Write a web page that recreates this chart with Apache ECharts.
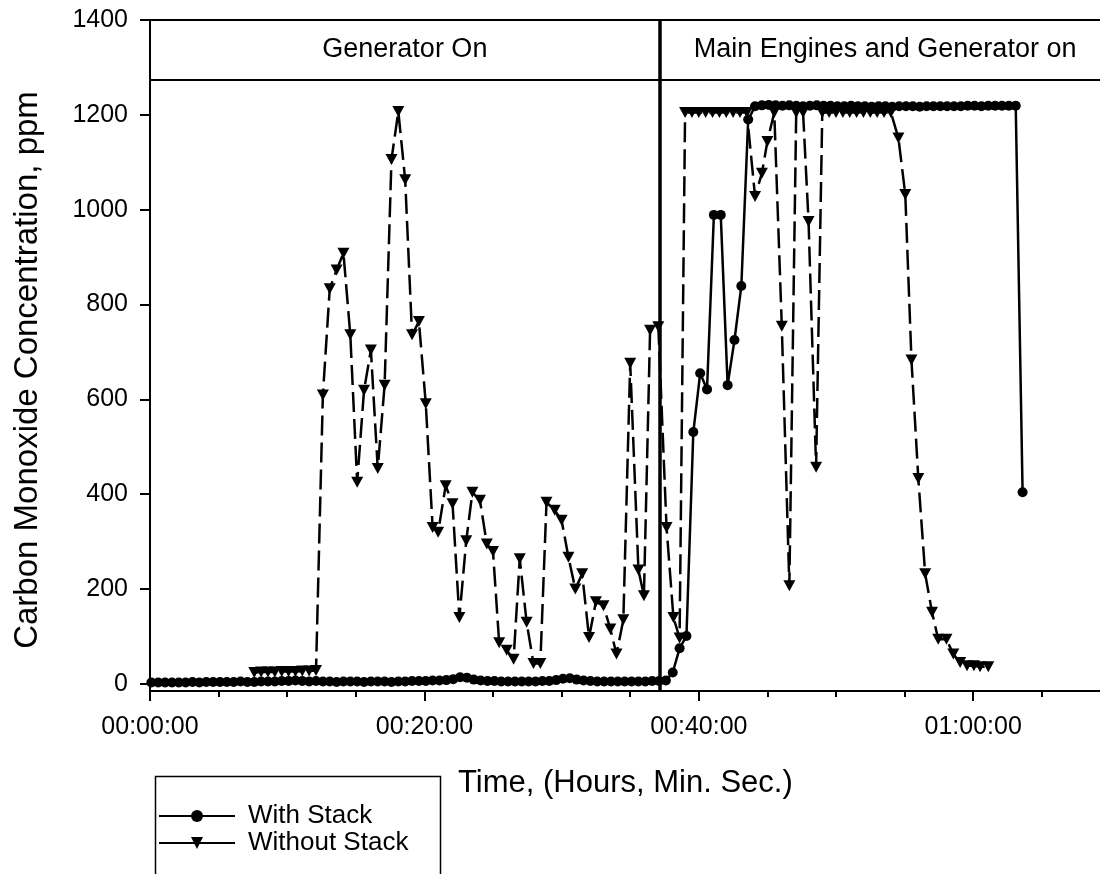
<!DOCTYPE html>
<html><head><meta charset="utf-8">
<script src="https://cdn.jsdelivr.net/npm/echarts@6/dist/echarts.min.js"></script>
<style>html,body{margin:0;padding:0;background:#fff}#c{width:1100px;height:874px}</style>
</head><body><div id="c"></div>
<script>
// ---- data (time in minutes, CO in ppm) ----
const withTimes = [0.1,0.6,1.1,1.6,2.1,2.6,3.1,3.6,4.1,4.6,5.1,5.6,6.1,6.6,7.1,7.6,8.1,8.6,9.1,9.6,
  10.1,10.6,11.1,11.6,12.1,12.6,13.1,13.6,14.1,14.6,15.1,15.6,16.1,16.6,17.1,17.6,18.1,18.6,19.1,19.6,
  20.1,20.6,21.1,21.6,22.1,22.6,23.1,23.6,24.1,24.6,25.1,25.6,26.1,26.6,27.1,27.6,28.1,28.6,29.1,29.6,
  30.1,30.6,31.1,31.6,32.1,32.6,33.1,33.6,34.1,34.6,35.1,35.6,36.1,36.6,37.1,37.6,
  38.1,38.6,39.1,39.6,40.1,40.6,41.1,41.6,42.1,42.6,43.1,43.6,
  44.1,44.6,45.1,45.6,46.1,46.6,47.1,47.6,48.1,48.6,49.1,49.6,50.1,50.6,51.1,51.6,52.1,52.6,53.1,53.6,
  54.1,54.6,55.1,55.6,56.1,56.6,57.1,57.6,58.1,58.6,59.1,59.6,60.1,60.6,61.1,61.6,62.1,62.6,63.1,
  63.6];
const withValues = [3,3,3,3,3,3,4,3,4,4, 4,4,4,5,4,4,5,5,5,6, 6,7,6,5,6,5,5,4,5,5,
  5,4,5,5,5,4,5,5,6,6, 6,7,7,8,10,14,13,9,7,6, 6,5,5,5,5,5,5,6,6,8,
  11,12,9,7,6,5,5,5,5,5, 5,5,5,6,6,7,
  24,75,101,531,655,621,989,989,630,725,839,1190,
  1218,1220,1221,1220,1219,1220,1219,1218,1219,1220, 1219,1219,1218,1218,1219,1218,1218,1217,1218,1218,
  1217,1218,1218,1218,1217,1218,1218,1218,1218,1218, 1218,1219,1219,1218,1219,1219,1219,1219,1219,
  404];
const withoutTimes = [7.6,8.1,8.6,9.1,9.6,10.1,10.6,11.1,11.6,12.1,
  12.6,13.1,13.6,14.1,14.6,15.1,15.6,16.1,16.6,17.1,
  17.6,18.1,18.6,19.1,19.6,20.1,20.6,21.0,21.55,22.05,
  22.55,23.05,23.5,24.05,24.55,25.0,25.45,26.0,26.5,26.95,
  27.45,27.95,28.45,28.9,29.5,30.0,30.5,31.0,31.5,32.0,
  32.5,33.05,33.55,34.0,34.5,35.0,35.6,36.0,36.45,37.05,
  37.65,38.15,38.6,
  39.0,39.5,40.0,40.5,41.0,41.5,42.0,42.5,43.0,43.5,
  44.1,44.6,45.0,45.5,46.05,46.6,47.1,47.6,48.0,48.55,49.0,
  49.5,50.0,50.5,51.0,51.5,52.0,52.5,53.0,53.5,54.0,
  54.55,55.05,55.5,56.0,56.5,57.0,57.45,58.05,58.55,59.05,59.55,60.05,60.5,61.1];
const withoutValues = [24,25,25,25,26,26,26,27,27,28,
  609,833,873,908,736,425,619,704,454,630,
  1106,1207,1063,736,764,591,330,320,418,380,
  140,302,404,387,295,279,87,71,52,264,
  130,43,43,383,366,345,267,200,232,98,
  173,165,116,63,135,676,240,186,746,753,
  330,140,97,
  1205,1205,1205,1205,1205,1205,1205,1205,1205,1205,
  1028,1077,1144,1205,754,207,1205,1205,975,457,1205,
  1205,1205,1205,1205,1205,1205,1205,1205,1205,1205,
  1151,1032,683,433,232,151,94,94,63,45,38,38,36,36];
const seriesNames = ['With Stack','Without Stack'];
const yTicks = [0,200,400,600,800,1000,1200,1400];
const phaseChange = 37.15;       // minutes
const headerLevel = 1275;        // ppm
const phaseLabels = ['Generator On','Main Engines and Generator on'];
const phaseEnd = 70;

const FF = '"Liberation Sans", Arial, sans-serif';
function pad(n){ return (n<10?'0':'')+n; }
function fmtTime(m){ const h=Math.floor(m/60), mm=Math.round(m%60); return pad(h)+':'+pad(mm)+':00'; }

const chart = echarts.init(document.getElementById('c'), null, {renderer:'canvas'});
chart.setOption({
  animation:false,
  backgroundColor:'#fff',
  grid:{left:150, top:20, width:1097.6, height:671, outerBoundsMode:'none', containLabel:false,
        show:true, borderColor:'#000', borderWidth:2, backgroundColor:'transparent'},
  xAxis:{
    type:'value', min:0, max:80, interval:20,
    axisLine:{onZero:false, lineStyle:{color:'#000', width:2}},
    axisTick:{show:true, length:10, lineStyle:{color:'#000', width:2}},
    minorTick:{show:true, splitNumber:4, length:6, lineStyle:{color:'#000', width:2}},
    splitLine:{show:false}, minorSplitLine:{show:false},
    axisLabel:{color:'#000', fontSize:25, fontFamily:FF, margin:24, formatter:v=>fmtTime(v)}
  },
  yAxis:{
    type:'value', min:-15, max:1400,
    axisLine:{show:true, onZero:false, lineStyle:{color:'#000', width:2}},
    axisTick:{show:true, length:10, customValues:yTicks, lineStyle:{color:'#000', width:2}},
    axisLabel:{color:'#000', fontSize:25, fontFamily:FF, margin:22, customValues:yTicks, formatter:v=>String(v)},
    splitLine:{show:false}
  },
  legend:{
    left:153, top:773, orient:'vertical', itemWidth:76, itemHeight:15, itemGap:1,
    padding:[30,10,5,5],
    textStyle:{color:'#000', fontSize:26, fontFamily:FF, padding:[0,0,0,8]},
    data:[{name:seriesNames[0]},{name:seriesNames[1], lineStyle:{type:'solid'}}]
  },
  graphic:[
    {type:'rect', left:153, top:774, shape:{width:285, height:130}, style:{fill:'none', stroke:'#000', lineWidth:1.5}, silent:true},
    {type:'text', left:458, top:768, style:{text:'Time, (Hours, Min. Sec.)', font:'31px "Liberation Sans", Arial, sans-serif', fill:'#000'}},
    {type:'text', x:28, y:370, rotation:Math.PI/2, style:{text:'Carbon Monoxide Concentration, ppm', align:'center', verticalAlign:'middle', font:'33px "Liberation Sans", Arial, sans-serif', fill:'#000'}}
  ],
  series:[
    {
      name:seriesNames[1], type:'line', z:2,
      data:withoutTimes.map((t,i)=>[t, withoutValues[i]]),
      symbol:'triangle', symbolRotate:180, symbolSize:[12,11], showSymbol:true,
      itemStyle:{color:'#000'}, lineStyle:{color:'#000', width:2.5, type:[20,7]},
      markLine:{silent:true, symbol:'none', animation:false, label:{show:false},
        data:[{yAxis:headerLevel, lineStyle:{color:'#000', width:2, type:'solid'}},
              {xAxis:phaseChange, lineStyle:{color:'#000', width:3.5, type:'solid'}}]},
      markArea:{silent:true, itemStyle:{color:'rgba(0,0,0,0)'},
        label:{show:true, position:'inside', color:'#000', fontSize:27, fontFamily:FF},
        data:[[{name:phaseLabels[0], xAxis:0, yAxis:headerLevel},{xAxis:phaseChange, yAxis:1400}],
              [{name:phaseLabels[1], xAxis:phaseChange, yAxis:headerLevel},{xAxis:phaseEnd, yAxis:1400}]]}
    },
    {
      name:seriesNames[0], type:'line', z:3,
      data:withTimes.map((t,i)=>[t, withValues[i]]),
      symbol:'circle', symbolSize:10, showSymbol:true,
      itemStyle:{color:'#000'}, lineStyle:{color:'#000', width:2.5}
    }
  ]
});
</script></body></html>
